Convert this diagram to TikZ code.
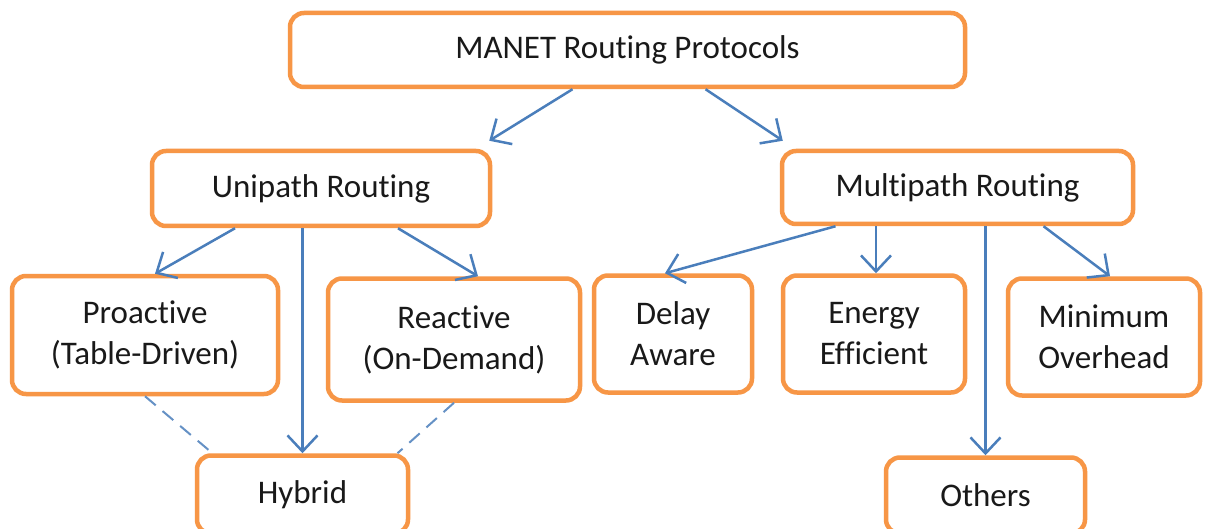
\documentclass[tikz,border=0pt]{standalone}
\usepackage{fontspec}
\setmainfont{Carlito}[RawFeature={-liga;-clig;-calt;-dlig}]
\usetikzlibrary{arrows.meta}
\definecolor{boxorange}{HTML}{F79646}
\definecolor{linkblue}{HTML}{4A7EBB}
\begin{document}
\begin{tikzpicture}[x=1pt,y=-1pt,
  box/.style={draw=boxorange, line width=4.5pt, rounded corners=14pt, fill=white,
    inner sep=0pt, align=center, text=black!90, font=\fontsize{33}{41}\selectfont},
  link/.style={draw=linkblue, line width=2.5pt, -{Straight Barb[length=16pt,width=30pt,line width=2.5pt]}},
  dlink/.style={draw=linkblue!85, line width=2pt, dash pattern=on 14pt off 9pt}]
\useasboundingbox[fill=white] (0,0) rectangle (1206,529);
\node[box, minimum width=675pt, minimum height=74pt] (manet) at (627.5,50) {MANET Routing Protocols};
\node[box, minimum width=338pt, minimum height=75pt] (uni) at (321,188.5) {Unipath Routing};
\node[box, minimum width=351pt, minimum height=73pt] (multi) at (957.5,187.5) {Multipath Routing};
\node[box, minimum width=266pt, minimum height=118pt] (pro) at (145,335) {Proactive\\(Table-Driven)};
\node[box, minimum width=252pt, minimum height=122pt] (rea) at (454,339.5) {Reactive\\(On-Demand)};
\node[box, minimum width=158pt, minimum height=117pt] (delay) at (673,334) {Delay\\Aware};
\node[box, minimum width=182pt, minimum height=117pt] (energy) at (874,334) {Energy\\Efficient};
\node[box, minimum width=192pt, minimum height=117pt] (minov) at (1104,337) {Minimum\\Overhead};
\node[box, minimum width=211pt, minimum height=78pt] (hybrid) at (302.5,494.5) {Hybrid};
\node[box, minimum width=199pt, minimum height=76pt] (others) at (985.5,495.5) {Others};
% connectors
\draw[link] ([xshift=-55pt]manet.south) -- ([xshift=-3pt,yshift=8pt]uni.north east);
\draw[link] ([xshift=78pt]manet.south) -- ([xshift=3pt,yshift=8pt]multi.north west);
\draw[link] ([xshift=-86pt]uni.south) -- ([xshift=10pt]pro.north);
\draw[link] (uni.south -| hybrid.north) -- (hybrid.north);
\draw[link] ([xshift=77pt]uni.south) -- ([xshift=24pt]rea.north);
\draw[link] ([xshift=-122pt]multi.south) -- ([xshift=-8pt]delay.north);
\draw[link] ([xshift=2pt]energy.north |- multi.south) -- ([xshift=2pt]energy.north);
\draw[link] (multi.south -| others.north) -- (others.north);
\draw[link] ([xshift=86pt]multi.south) -- ([xshift=6pt]minov.north);
\draw[dlink] (pro.south) -- ([xshift=-90pt]hybrid.north);
\draw[dlink] (rea.south) -- ([xshift=95pt]hybrid.north);
\end{tikzpicture}
\end{document}
